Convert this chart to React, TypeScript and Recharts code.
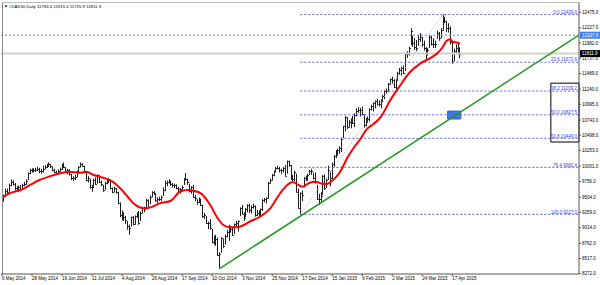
import {
  ComposedChart,
  Bar,
  Line,
  XAxis,
  YAxis,
  ReferenceLine,
  ReferenceArea,
} from "recharts";

// #DAX30 daily bars, 6 May 2014 .. 23 Apr 2015 (one entry per trading day)
const highs = [
  9520, 9545, 9640, 9640, 9720, 9790, 9770, 9730, 9680, 9690, 9700, 9720, 9750, 9790, 9900, 9960, 9965, 9970, 9975, 9990,
  9975, 9960, 10010, 10020, 10040, 10060, 10040, 10000, 9960, 9930, 9950, 9980, 10040, 10060, 9990, 9960, 9950, 9880, 9840, 9860,
  9930, 10000, 10060, 10050, 10010, 9920, 9840, 9800, 9700, 9800, 9820, 9870, 9860, 9770, 9700, 9750, 9780, 9810, 9790, 9660,
  9670, 9650, 9590, 9420, 9290, 9260, 9200, 9120, 9060, 9190, 9200, 9210, 9260, 9280, 9270, 9350, 9350, 9480, 9470, 9530,
  9600, 9600, 9560, 9500, 9510, 9530, 9660, 9770, 9770, 9790, 9770, 9730, 9720, 9710, 9670, 9650, 9690, 9810, 9891, 9800,
  9720, 9680, 9700, 9540, 9470, 9500, 9480, 9380, 9250, 9200, 9110, 9150, 8990, 8880, 8900, 8850, 8620, 8860, 8840, 8900,
  8980, 9060, 9040, 9010, 9080, 9120, 9130, 9340, 9380, 9260, 9330, 9390, 9400, 9370, 9400, 9370, 9300, 9290, 9320, 9470,
  9490, 9500, 9750, 9800, 9880, 9930, 9990, 10010, 9990, 9960, 9990, 10020, 10093, 10090, 10020, 9860, 9930, 9880, 9640, 9580,
  9610, 9830, 9850, 9880, 9940, 9960, 9900, 9900, 9700, 9560, 9580, 9860, 9870, 9800, 10010, 9920, 10060, 10180, 10260, 10280,
  10320, 10460, 10650, 10810, 10790, 10740, 10770, 10810, 10850, 10930, 10950, 10940, 10960, 10830, 10780, 10800, 10930, 10990, 11030, 11060,
  11080, 11060, 11080, 11150, 11220, 11250, 11340, 11410, 11440, 11400, 11410, 11520, 11580, 11600, 11620, 11820, 11850, 11920, 12219, 12100,
  12060, 12030, 12110, 12140, 12080, 12020, 11920, 11900, 12100, 12100, 12060, 12020, 12180, 12160, 12220, 12439, 12400, 12340, 12300, 12250,
  12000, 11890, 11960, 11980, 11913.4,
];

const lows = [
  9440, 9430, 9500, 9540, 9590, 9680, 9690, 9610, 9590, 9600, 9610, 9630, 9680, 9700, 9780, 9870, 9900, 9900, 9910, 9920,
  9890, 9880, 9900, 9950, 9970, 9990, 9970, 9920, 9890, 9860, 9870, 9900, 9940, 9970, 9900, 9870, 9850, 9780, 9760, 9780,
  9820, 9890, 9980, 9990, 9890, 9760, 9740, 9640, 9590, 9670, 9700, 9720, 9730, 9680, 9590, 9620, 9710, 9730, 9630, 9570,
  9580, 9560, 9390, 9180, 9130, 9120, 9070, 8980, 8900, 9030, 9050, 9060, 9170, 9060, 9120, 9240, 9260, 9320, 9320, 9390,
  9500, 9540, 9430, 9410, 9440, 9440, 9520, 9600, 9680, 9720, 9680, 9660, 9650, 9630, 9580, 9560, 9620, 9700, 9770, 9700,
  9580, 9560, 9490, 9440, 9380, 9410, 9360, 9170, 9150, 9070, 8990, 8980, 8760, 8740, 8720, 8560, 8355, 8610, 8690, 8740,
  8860, 8800, 8930, 8880, 8910, 9030, 8950, 9200, 9230, 9120, 9180, 9260, 9250, 9240, 9320, 9190, 9200, 9200, 9190, 9280,
  9420, 9400, 9480, 9720, 9770, 9840, 9900, 9950, 9900, 9880, 9900, 9840, 9880, 9990, 9780, 9760, 9760, 9580, 9320, 9227,
  9440, 9660, 9760, 9780, 9860, 9860, 9790, 9720, 9460, 9380, 9420, 9540, 9620, 9650, 9780, 9680, 9800, 9990, 10130, 10170,
  10200, 10230, 10450, 10560, 10600, 10620, 10610, 10680, 10630, 10800, 10860, 10800, 10820, 10620, 10640, 10700, 10720, 10900, 10880, 10930,
  10980, 10960, 10930, 11050, 11080, 11170, 11190, 11310, 11330, 11260, 11230, 11380, 11470, 11460, 11480, 11530, 11740, 11780, 11950, 11920,
  11870, 11850, 11940, 12000, 11920, 11860, 11700, 11780, 11900, 11940, 11900, 11900, 12050, 12020, 12060, 12180, 12300, 12160, 12150, 11960,
  11650, 11690, 11820, 11800, 11735.9,
];

const closes = [
  9467, 9521, 9607, 9581, 9702, 9754, 9710, 9656, 9629, 9660, 9639, 9697, 9720, 9768, 9892, 9940, 9939, 9932, 9943, 9950,
  9919, 9930, 9960, 9990, 10010, 10030, 10000, 9945, 9915, 9885, 9925, 9950, 9995, 9990, 9925, 9940, 9870, 9805, 9815, 9833,
  9902, 9990, 10030, 10010, 9906, 9772, 9808, 9659, 9666, 9783, 9719, 9859, 9753, 9720, 9612, 9735, 9753, 9794, 9644, 9593,
  9653, 9593, 9407, 9210, 9154, 9189, 9130, 9039, 9010, 9180, 9069, 9198, 9225, 9092, 9245, 9334, 9314, 9461, 9339, 9510,
  9588, 9569, 9462, 9470, 9480, 9507, 9626, 9724, 9747, 9758, 9710, 9700, 9691, 9651, 9633, 9632, 9661, 9798, 9799, 9749,
  9595, 9662, 9510, 9490, 9422, 9474, 9382, 9195, 9209, 9086, 9086, 9005, 8788, 8812, 8825, 8572, 8582, 8850, 8717, 8886,
  8940, 9047, 8987, 8902, 9068, 9082, 9114, 9326, 9235, 9166, 9315, 9377, 9291, 9351, 9369, 9210, 9248, 9252, 9306, 9456,
  9472, 9483, 9732, 9785, 9861, 9916, 9974, 9980, 9934, 9934, 9971, 9851, 10087, 10014, 9799, 9799, 9903, 9594, 9335, 9563,
  9544, 9811, 9787, 9865, 9922, 9927, 9805, 9764, 9473, 9469, 9518, 9838, 9648, 9782, 9941, 9818, 10032, 10168, 10242, 10257,
  10299, 10435, 10649, 10798, 10628, 10710, 10738, 10694, 10828, 10891, 10911, 10905, 10847, 10663, 10753, 10752, 10919, 10963, 11019, 11050,
  11005, 11002, 11050, 11131, 11206, 11211, 11327, 11402, 11390, 11280, 11390, 11504, 11550, 11582, 11500, 11806, 11799, 11901, 12167, 11980,
  11922, 11899, 12040, 12076, 11962, 11895, 11843, 11868, 12086, 11966, 11971, 11967, 12150, 12060, 12190, 12375, 12338, 12227, 12231, 11998,
  11689, 11852, 11901, 11897, 11811.9,
];

// red moving average, read at the bar positions below
const maIdx = [
  0, 4, 10, 15, 20, 26, 31, 36, 42, 45, 49, 54, 59, 63, 67, 70, 74, 77, 81, 84, 90, 95, 99, 102, 106, 111, 115, 118, 122, 125,
  129, 132, 137, 143, 148, 152, 155, 158, 160, 164, 167, 170, 173, 176, 180, 184, 187, 191, 194, 198, 202, 207, 212, 217, 223,
  228, 232, 235, 237, 239, 240, 243, 244,
];
const maVal = [
  9490, 9565, 9618, 9699, 9779, 9843, 9887, 9912, 9896, 9912, 9859, 9816, 9752, 9646, 9510, 9404, 9334, 9324, 9361, 9404, 9446,
  9594, 9618, 9607, 9565, 9377, 9163, 9056, 9018, 9018, 9056, 9109, 9180, 9324, 9554, 9699, 9747, 9699, 9671, 9735, 9752, 9725,
  9710, 9767, 9900, 10133, 10277, 10438, 10583, 10679, 10797, 11065, 11290, 11499, 11655, 11735, 11816, 11922, 12018, 12041,
  12002, 11986, 11965,
];

const dateTicks = [0, 16, 32, 48, 64, 80, 96, 112, 128, 144, 160, 176, 192, 208, 224, 240];
const dateLabels = [
  "6 May 2014", "28 May 2014", "19 Jun 2014", "11 Jul 2014", "4 Aug 2014", "26 Aug 2014", "17 Sep 2014", "10 Oct 2014",
  "3 Nov 2014", "25 Nov 2014", "17 Dec 2014", "15 Jan 2015", "6 Feb 2015", "2 Mar 2015", "24 Mar 2015", "17 Apr 2015",
];

const priceTicks = [
  12475, 12227, 11982, 11737, 11489, 11240, 10995, 10743, 10498, 10253, 10001, 9756, 9504, 9259, 9014, 8762, 8517, 8272,
];

const fibLevels = [0, 23.6, 38.2, 50, 61.8, 76.4, 100];
const fibPrices = [12439.0, 11672.6, 11209.2, 10827.5, 10449.0, 9982.4, 9227.0];

const header = "#DAX30,Daily  11794.4 11913.4 11735.9 11811.9";

// empty slots after the last bar (chart shift on the right)
const SLOTS = 308;
const FONT = "Liberation Sans, Arial, sans-serif";

const maMap = new Map(maIdx.map((k, n) => [k, maVal[n]]));
const rows = Array.from({ length: SLOTS }, (_, i) => ({
  i,
  range: i < closes.length ? [lows[i], highs[i]] : undefined,
  close: i < closes.length ? closes[i] : undefined,
  ma: maMap.has(i) ? maMap.get(i) : null,
}));

const OhlcBar = (props: any) => {
  const { x, y, width, height, payload } = props;
  if (!payload || !payload.range) return null;
  const top = Math.min(y, y + height);
  const h = Math.abs(height);
  const cx = Math.round(x + width / 2) + 0.5;
  const [lo, hi] = payload.range;
  const yc = Math.round(top + ((hi - payload.close) / (hi - lo || 1)) * h) + 0.5;
  return (
    <g>
      <line x1={cx} x2={cx} y1={top} y2={top + h} stroke="#1e1e1e" strokeWidth={1} />
      <line x1={cx} x2={cx + 1.4} y1={yc} y2={yc} stroke="#1e1e1e" strokeWidth={1} />
    </g>
  );
};

const fibLabel = (text: string) => (p: any) => {
  const vb = p.viewBox;
  return (
    <text x={vb.x + vb.width - 1} y={vb.y - 0.8} textAnchor="end" fontSize={4.5} fill="#3a3aff" fontFamily={FONT}>
      {text}
    </text>
  );
};

const axisBox = (text: string, bg: string) => (p: any) => {
  const vb = p.viewBox;
  const bx = vb.x + vb.width + 1;
  return (
    <g>
      <rect x={bx} y={vb.y - 3.5} width={20} height={7} fill={bg} />
      <text x={bx + 2} y={vb.y + 1.6} fontSize={4.5} fill="#fff" fontFamily={FONT}>
        {text}
      </text>
    </g>
  );
};

const App = () => {
  return (
    <div style={{ position: "absolute", left: 0, top: 0, width: 600, height: 285, background: "#fff" }}>
      <ComposedChart width={600} height={285} data={rows} margin={{ top: 2, right: 0, left: 1, bottom: 0 }}>
        <XAxis
          dataKey="i"
          type="category"
          ticks={dateTicks}
          interval={0}
          height={11}
          tickSize={2}
          tickMargin={0.5}
          tickFormatter={(v: number) => dateLabels[dateTicks.indexOf(v)]}
          tick={{ fontSize: 4.5, fill: "#000", textAnchor: "start", fontFamily: FONT }}
          axisLine={{ stroke: "#555" }}
          tickLine={{ stroke: "#555" }}
        />
        <YAxis
          type="number"
          orientation="right"
          domain={[8268, 12641]}
          allowDataOverflow
          ticks={priceTicks}
          interval={0}
          width={21}
          tickSize={2}
          tickMargin={1}
          tickFormatter={(v: number) => v.toFixed(1)}
          tick={{ fontSize: 4.5, fill: "#000", fontFamily: FONT }}
          axisLine={{ stroke: "#555" }}
          tickLine={{ stroke: "#555" }}
        />

        {/* bid line and the horizontal line object */}
        <ReferenceLine y={11811.9} stroke="#d0d0d0" strokeWidth={2} label={axisBox("11811.9", "#000")} />
        <ReferenceLine
          y={12107.6}
          stroke="#7676e6"
          strokeDasharray="2 2"
          label={axisBox("12107.6", "#3f7fee")}
        />

        {/* fibonacci retracement */}
        <ReferenceLine
          segment={[
            { x: 159, y: fibPrices[6] },
            { x: 235, y: fibPrices[0] },
          ]}
          stroke="#9a9af0"
          strokeDasharray="1 2"
        />
        {fibPrices.map((p, n) => (
          <ReferenceLine
            key={fibLevels[n]}
            segment={[
              { x: 159, y: p },
              { x: SLOTS - 1, y: p },
            ]}
            stroke="#5a5aee"
            strokeDasharray="2 2"
            label={fibLabel(`${fibLevels[n].toFixed(1)} ${p.toFixed(1)}`)}
          />
        ))}

        <ReferenceArea x1={293} x2={SLOTS - 1} y1={10390} y2={11336} fill="none" stroke="#000" strokeWidth={1} />

        <Bar dataKey="range" barSize={1} shape={OhlcBar} isAnimationActive={false} />
        <Line
          dataKey="ma"
          type="monotone"
          stroke="#ff0000"
          strokeWidth={2}
          dot={false}
          connectNulls
          isAnimationActive={false}
        />

        {/* trend line and marker box */}
        <ReferenceLine
          segment={[
            { x: 116, y: 8355 },
            { x: SLOTS - 1, y: 12100 },
          ]}
          stroke="#229922"
          strokeWidth={1.5}
        />
        <ReferenceArea
          x1={238}
          x2={244}
          y1={10760}
          y2={10887}
          fill="#3f78e0"
          fillOpacity={1}
          stroke="#2c5cc8"
        />
      </ComposedChart>

      <svg width={600} height={285} style={{ position: "absolute", left: 0, top: 0, pointerEvents: "none" }}>
        <line x1={2.5} x2={2.5} y1={2} y2={274} stroke="#888" />
        <line x1={2} x2={579} y1={2.5} y2={2.5} stroke="#bbb" />
        <polygon points="4.5,5.5 7.5,5.5 6,7.5" fill="#000" />
        <text x={9} y={7.8} fontSize={4.3} fill="#000" fontFamily={FONT}>
          {header}
        </text>
      </svg>
    </div>
  );
};

export default App;
